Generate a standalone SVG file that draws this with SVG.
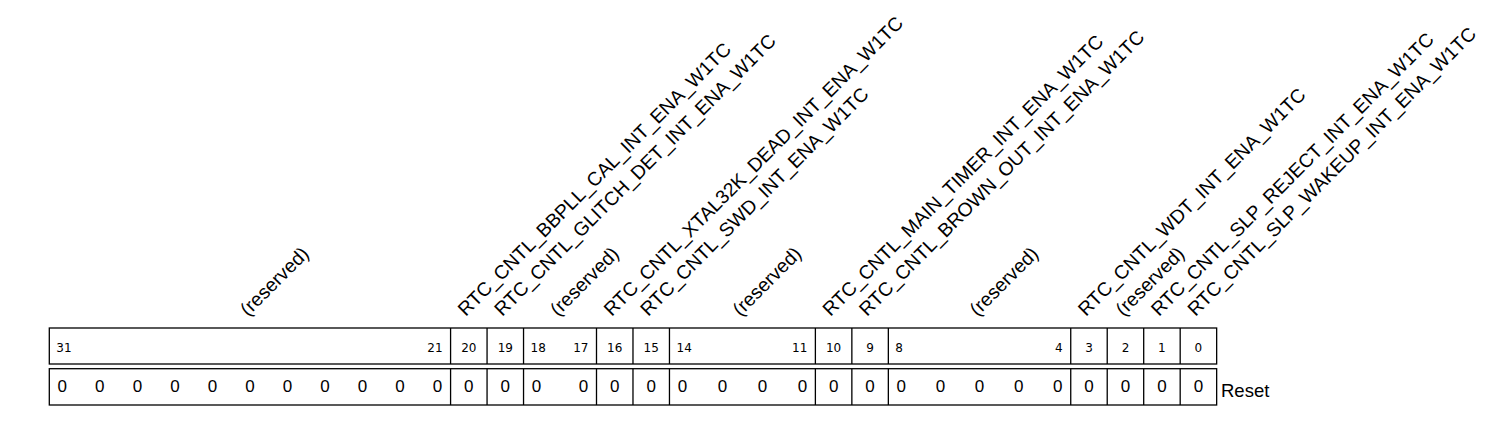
<svg xmlns="http://www.w3.org/2000/svg" width="1500" height="426" viewBox="0 0 1500 426">
<style>
.box{fill:none;stroke:#000;stroke-width:1.3}
.sep{stroke:#000;stroke-width:1.3}
.lbl{font-family:"Liberation Sans",Arial,sans-serif;font-size:19.3px;fill:#000}
.num{font-family:"DejaVu Sans",Verdana,sans-serif;font-size:12px;fill:#000}
.c{text-anchor:middle}
.e{text-anchor:end}
.z{font-family:"Liberation Sans",Arial,sans-serif;font-size:17px;fill:#000;text-anchor:middle}
.rst{font-family:"Liberation Sans",Arial,sans-serif;font-size:18.5px;fill:#000}
</style>
<rect width="1500" height="426" fill="#fff"/>
<g id="frame">
<rect class="box" x="49.3" y="328" width="1167.36" height="36"/>
<rect class="box" x="49.3" y="368.7" width="1167.36" height="36.3"/>
</g>
<g id="separators">
<path class="sep" d="M450.58 328V364M487.06 328V364M523.54 328V364M596.5 328V364M632.98 328V364M669.46 328V364M815.38 328V364M851.86 328V364M888.34 328V364M1070.74 328V364M1107.22 328V364M1143.7 328V364M1180.18 328V364"/>
<path class="sep" d="M450.58 368.7V405M487.06 368.7V405M523.54 368.7V405M596.5 368.7V405M632.98 368.7V405M669.46 368.7V405M815.38 368.7V405M851.86 368.7V405M888.34 368.7V405M1070.74 368.7V405M1107.22 368.7V405M1143.7 368.7V405M1180.18 368.7V405"/>
</g>
<g id="f31_21">
<text class="lbl" transform="translate(248,317) rotate(-45)">(reserved)</text>
<text class="num" x="56.3" y="351.5">31</text>
<text class="num e" x="442.6" y="351.5">21</text>
<text class="z" x="62.3" y="391.5">0</text><text class="z" x="99.83" y="391.5">0</text><text class="z" x="137.36" y="391.5">0</text><text class="z" x="174.89" y="391.5">0</text><text class="z" x="212.42" y="391.5">0</text><text class="z" x="249.94" y="391.5">0</text><text class="z" x="287.47" y="391.5">0</text><text class="z" x="325" y="391.5">0</text><text class="z" x="362.53" y="391.5">0</text><text class="z" x="400.06" y="391.5">0</text><text class="z" x="437.58" y="391.5">0</text>
</g>
<g id="f20">
<text class="lbl" transform="translate(465.8,317) rotate(-45)">RTC_CNTL_BBPLL_CAL_INT_ENA_W1TC</text>
<text class="num c" x="468.82" y="351.5">20</text>
<text class="z" x="468.82" y="391.5">0</text>
</g>
<g id="f19">
<text class="lbl" transform="translate(502.3,317) rotate(-45)">RTC_CNTL_GLITCH_DET_INT_ENA_W1TC</text>
<text class="num c" x="505.3" y="351.5">19</text>
<text class="z" x="505.3" y="391.5">0</text>
</g>
<g id="f18_17">
<text class="lbl" transform="translate(558,317) rotate(-45)">(reserved)</text>
<text class="num" x="530.5" y="351.5">18</text>
<text class="num e" x="588.5" y="351.5">17</text>
<text class="z" x="536.54" y="391.5">0</text><text class="z" x="583.5" y="391.5">0</text>
</g>
<g id="f16">
<text class="lbl" transform="translate(611.7,317) rotate(-45)">RTC_CNTL_XTAL32K_DEAD_INT_ENA_W1TC</text>
<text class="num c" x="614.74" y="351.5">16</text>
<text class="z" x="614.74" y="391.5">0</text>
</g>
<g id="f15">
<text class="lbl" transform="translate(648.2,317) rotate(-45)">RTC_CNTL_SWD_INT_ENA_W1TC</text>
<text class="num c" x="651.22" y="351.5">15</text>
<text class="z" x="651.22" y="391.5">0</text>
</g>
<g id="f14_11">
<text class="lbl" transform="translate(740.4,317) rotate(-45)">(reserved)</text>
<text class="num" x="676.5" y="351.5">14</text>
<text class="num e" x="807.4" y="351.5">11</text>
<text class="z" x="682.46" y="391.5">0</text><text class="z" x="722.43" y="391.5">0</text><text class="z" x="762.41" y="391.5">0</text><text class="z" x="802.38" y="391.5">0</text>
</g>
<g id="f10">
<text class="lbl" transform="translate(830.6,317) rotate(-45)">RTC_CNTL_MAIN_TIMER_INT_ENA_W1TC</text>
<text class="num c" x="833.62" y="351.5">10</text>
<text class="z" x="833.62" y="391.5">0</text>
</g>
<g id="f9">
<text class="lbl" transform="translate(867.1,317) rotate(-45)">RTC_CNTL_BROWN_OUT_INT_ENA_W1TC</text>
<text class="num c" x="870.1" y="351.5">9</text>
<text class="z" x="870.1" y="391.5">0</text>
</g>
<g id="f8_4">
<text class="lbl" transform="translate(977.5,317) rotate(-45)">(reserved)</text>
<text class="num" x="895.3" y="351.5">8</text>
<text class="num e" x="1062.7" y="351.5">4</text>
<text class="z" x="901.34" y="391.5">0</text><text class="z" x="940.44" y="391.5">0</text><text class="z" x="979.54" y="391.5">0</text><text class="z" x="1018.64" y="391.5">0</text><text class="z" x="1057.74" y="391.5">0</text>
</g>
<g id="f3">
<text class="lbl" transform="translate(1086,317) rotate(-45)">RTC_CNTL_WDT_INT_ENA_W1TC</text>
<text class="num c" x="1088.98" y="351.5">3</text>
<text class="z" x="1088.98" y="391.5">0</text>
</g>
<g id="f2">
<text class="lbl" transform="translate(1123.5,317) rotate(-45)">(reserved)</text>
<text class="num c" x="1125.46" y="351.5">2</text>
<text class="z" x="1125.46" y="391.5">0</text>
</g>
<g id="f1">
<text class="lbl" transform="translate(1158.9,317) rotate(-45)">RTC_CNTL_SLP_REJECT_INT_ENA_W1TC</text>
<text class="num c" x="1161.94" y="351.5">1</text>
<text class="z" x="1161.94" y="391.5">0</text>
</g>
<g id="f0">
<text class="lbl" transform="translate(1195.4,317) rotate(-45)">RTC_CNTL_SLP_WAKEUP_INT_ENA_W1TC</text>
<text class="num c" x="1198.42" y="351.5">0</text>
<text class="z" x="1198.42" y="391.5">0</text>
</g>
<g id="reset">
<text class="rst" x="1221" y="396.5">Reset</text>
</g>
</svg>
